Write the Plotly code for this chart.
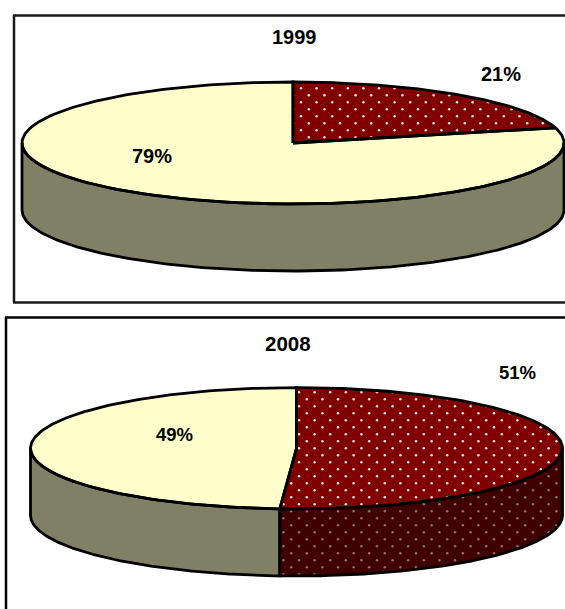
import numpy as np
import plotly.graph_objects as go

# Shares shown on each pie, clockwise from twelve o'clock
years = ["1999", "2008"]
shares_1999 = [21, 79]
shares_2008 = [51, 49]
slice_names = ["Dotted share", "Plain share"]

TOP_COLORS = ["#800000", "#FFFFCC"]
WALL_COLORS = ["#400000", "#808066"]
OUTLINE = "#000000"
FONT = "Liberation Sans"

WIDTH, HEIGHT = 565, 609

# Pie geometry per panel, on an axis that spans the page
panels = [
    dict(year=years[0], shares=shares_1999, cx=293.0, cy=143.0, rx=271.0, ry=61.0, depth=67.0,
         dot_x=301.0, dot_y=88.3, title_size=20, label_size=20,
         title=(294, 37), labels=[(501, 74), (152, 156)]),
    dict(year=years[1], shares=shares_2008, cx=296.5, cy=448.3, rx=266.0, ry=60.7, depth=67.0,
         dot_x=299.0, dot_y=392.3, title_size=20.5, label_size=18.5,
         title=(288, 343), labels=[(517.5, 372), (174.5, 434)]),
]
DOT_STEP_X, DOT_STEP_Y = 15.6, 7.0


def rim(panel, theta, drop=0.0):
    """Points on the pie's rim for angles measured clockwise from the top."""
    x = panel["cx"] + panel["rx"] * np.sin(theta)
    y = panel["cy"] - panel["ry"] * np.cos(theta) + drop
    return x, y


def sector_path(panel, start, end):
    theta = np.linspace(start, end, 240)
    x, y = rim(panel, theta)
    return (np.r_[panel["cx"], x, panel["cx"]], np.r_[panel["cy"], y, panel["cy"]])


def wall_path(panel, start, end):
    theta = np.linspace(start, end, 200)
    x, y = rim(panel, theta)
    xb, yb = rim(panel, theta[::-1], panel["depth"])
    return np.r_[x, xb, x[0]], np.r_[y, yb, y[0]]


def lattice(panel):
    """Staggered dot grid that covers the panel's pie."""
    rows = np.arange(-12, 45)
    cols = np.arange(-25, 30)
    cc, rr = np.meshgrid(cols, rows)
    x = panel["dot_x"] + (cc + 0.5 * (rr % 2)) * DOT_STEP_X
    y = panel["dot_y"] + rr * DOT_STEP_Y
    return x.ravel(), y.ravel()


def dots_on_top(panel, start, end):
    x, y = lattice(panel)
    u = (x - panel["cx"]) / panel["rx"]
    v = (panel["cy"] - y) / panel["ry"]
    angle = np.mod(np.arctan2(u, v), 2 * np.pi)
    keep = (u**2 + v**2 < 0.99) & (angle >= start) & (angle <= end)
    return x[keep], y[keep]


def dots_on_wall(panel, start, end):
    x, y = lattice(panel)
    u = (x - panel["cx"]) / panel["rx"]
    inside = np.abs(u) < 0.995
    rim_y = panel["cy"] + panel["ry"] * np.sqrt(np.clip(1 - u**2, 0, None))
    keep = (
        inside
        & (x <= panel["cx"] + panel["rx"] * np.sin(start))
        & (x >= panel["cx"] + panel["rx"] * np.sin(end))
        & (y > rim_y + 1.5)
        & (y < rim_y + panel["depth"] - 1.5)
    )
    return x[keep], y[keep]


fig = go.Figure()


def add_fill(x, y, color, name):
    fig.add_trace(go.Scatter(x=x, y=y, mode="lines", fill="toself", fillcolor=color,
                             line=dict(width=0, color=color), name=name,
                             hoverinfo="skip", showlegend=False))


def add_outline(x, y, name):
    fig.add_trace(go.Scatter(x=x, y=y, mode="lines", line=dict(color=OUTLINE, width=2.8),
                             name=name, hoverinfo="skip", showlegend=False))


def add_dots(x, y, color):
    fig.add_trace(go.Scatter(x=x, y=y, mode="markers",
                             marker=dict(size=2.5, color=color, line=dict(width=0)),
                             hoverinfo="skip", showlegend=False))


for panel in panels:
    fractions = np.cumsum([0] + panel["shares"]) / sum(panel["shares"]) * 2 * np.pi
    spans = list(zip(fractions[:-1], fractions[1:]))
    outlines = []

    # Front wall, visible only between three and nine o'clock
    for i, (start, end) in enumerate(spans):
        lo, hi = max(start, np.pi / 2), min(end, 3 * np.pi / 2)
        if hi > lo:
            wx, wy = wall_path(panel, lo, hi)
            add_fill(wx, wy, WALL_COLORS[i], f"{panel['year']} {slice_names[i]} wall")
            if i == 0:
                add_dots(*dots_on_wall(panel, lo, hi), "#8F6F6F")
            outlines.append((wx, wy))

    # Top face
    for i, (start, end) in enumerate(spans):
        sx, sy = sector_path(panel, start, end)
        add_fill(sx, sy, TOP_COLORS[i], f"{panel['year']} {slice_names[i]}")
        if i == 0:
            add_dots(*dots_on_top(panel, start, end), "#F4E4E4")
        outlines.append((sx, sy))

    for ox, oy in outlines:
        add_outline(ox, oy, f"{panel['year']} edge")

annotations = []
for panel in panels:
    annotations.append(dict(x=panel["title"][0], y=panel["title"][1], text=panel["year"],
                            size=panel["title_size"]))
    for share, (lx, ly) in zip(panel["shares"], panel["labels"]):
        annotations.append(dict(x=lx, y=ly, text=f"{share}%", size=panel["label_size"]))
for a in annotations:
    size = a.pop("size")
    a.update(xref="x", yref="y", showarrow=False, xanchor="center", yanchor="middle",
             font=dict(family=FONT, size=size, color="#000000"))
    a["text"] = f"<b>{a['text']}</b>"

# Panel borders; both run off the right edge and the lower one off the bottom
upper_line = dict(color="#1A1A1A", width=2.5)
lower_line = dict(color="#000000", width=2.5)
shapes = [
    dict(type="line", x0=13, y0=15.5, x1=WIDTH, y1=15.5, line=upper_line),
    dict(type="line", x0=14, y0=15, x1=14, y1=302.5, line=upper_line),
    dict(type="line", x0=13, y0=302.5, x1=WIDTH, y1=302.5, line=upper_line),
    dict(type="line", x0=5, y0=317.5, x1=WIDTH, y1=317.5, line=lower_line),
    dict(type="line", x0=6, y0=317, x1=6, y1=HEIGHT, line=lower_line),
]
for s in shapes:
    s.update(xref="x", yref="y", layer="below")

fig.update_layout(
    width=WIDTH, height=HEIGHT,
    margin=dict(l=0, r=0, t=0, b=0),
    paper_bgcolor="#FFFFFF", plot_bgcolor="#FFFFFF",
    xaxis=dict(range=[0, WIDTH], visible=False, fixedrange=True),
    yaxis=dict(range=[HEIGHT, 0], visible=False, fixedrange=True),
    annotations=annotations, shapes=shapes, showlegend=False,
)
fig.write_html("out.html", config=dict(displayModeBar=False))
